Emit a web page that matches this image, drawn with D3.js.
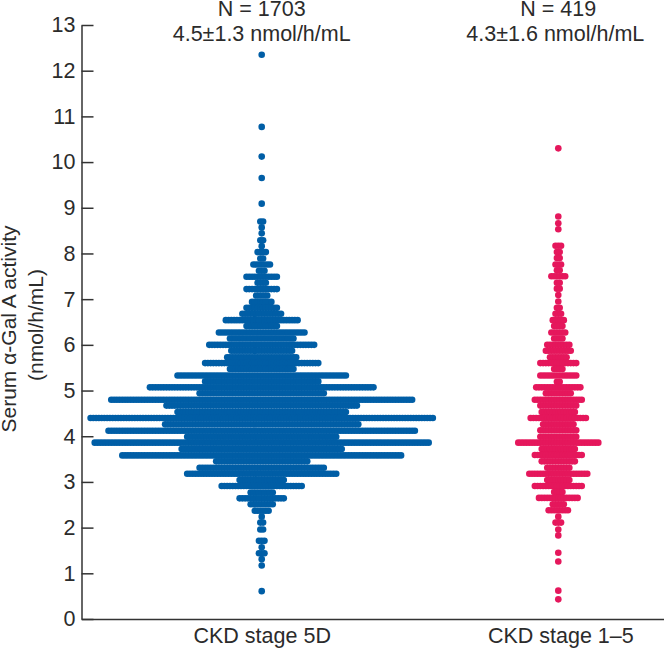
<!DOCTYPE html>
<html>
<head>
<meta charset="utf-8">
<style>
    html, body { margin: 0; padding: 0; background: #fff; }
    svg { display: block; }
    text { font-family: "Liberation Sans", Arial, sans-serif; fill: #2b2b2b; }
</style>
<script src="https://cdn.jsdelivr.net/npm/d3@7/dist/d3.min.js"></script>
</head>
<body>
<div id="chart"></div>
<script>

// DATA

var groups = ['CKD stage 5D', 'CKD stage 1\u20135'];
var headerN = ['N = 1703', 'N = 419'];
var headerMean = ['4.5\u00b11.3 nmol/h/mL', '4.3\u00b11.6 nmol/h/mL'];
var yTicks = [0, 1, 2, 3, 4, 5, 6, 7, 8, 9, 10, 11, 12, 13];

// Each row of the dot plot: activity value, and number of patients in that row
var dialysisValues = [
    12.35, 10.77, 10.12, 9.65, 9.09, 8.70, 8.57, 8.44, 8.29, 8.16,
    8.03, 7.89, 7.76, 7.62, 7.49, 7.36, 7.22, 7.08, 6.94, 6.81,
    6.68, 6.54, 6.41, 6.27, 6.14, 6.00, 5.87, 5.73, 5.60, 5.47,
    5.33, 5.20, 5.07, 4.94, 4.80, 4.67, 4.53, 4.40, 4.26, 4.12,
    3.99, 3.86, 3.72, 3.58, 3.45, 3.31, 3.18, 3.04, 2.91, 2.77,
    2.64, 2.51, 2.37, 2.24, 2.11, 1.96, 1.71, 1.57, 1.44, 1.31,
    1.17, 0.61
];
var dialysisCounts = [
    1, 1, 1, 1, 1, 2, 1, 1, 2, 1,
    4, 2, 7, 3, 12, 4, 12, 5, 8, 12,
    15, 27, 12, 32, 24, 39, 23, 26, 42, 24,
    62, 42, 82, 46, 110, 70, 62, 125, 71, 112,
    55, 122, 59, 102, 34, 46, 55, 17, 30, 9,
    17, 9, 6, 1, 2, 2, 3, 1, 3, 1,
    1, 1
];

var stageValues = [
    10.30, 8.81, 8.66, 8.53, 8.17, 8.03, 7.90, 7.76, 7.63, 7.50,
    7.36, 7.23, 7.09, 6.95, 6.81, 6.68, 6.54, 6.41, 6.27, 6.14,
    6.00, 5.87, 5.73, 5.60, 5.47, 5.33, 5.19, 5.07, 4.94, 4.80,
    4.67, 4.53, 4.40, 4.26, 4.13, 3.99, 3.86, 3.72, 3.59, 3.45,
    3.31, 3.18, 3.04, 2.91, 2.78, 2.65, 2.51, 2.38, 2.24, 2.11,
    1.96, 1.83, 1.45, 1.26, 0.62, 0.43
];
var stageCounts = [
    1, 1, 1, 1, 3, 2, 2, 3, 2, 6,
    2, 2, 1, 1, 2, 3, 5, 4, 6, 4,
    9, 10, 7, 14, 4, 14, 2, 17, 10, 18,
    14, 13, 21, 12, 14, 14, 30, 13, 18, 13,
    9, 22, 9, 18, 4, 15, 5, 8, 1, 3,
    1, 1, 1, 1, 1, 1
];

var colors = ['#005ea6', '#e5175c'];


// SETUP

var width = 664;
var height = 648;

var fontSize = '21.5px';
var dotRadius = 3.3;
var dotStep = 2.76;

var svg = d3.select( '#chart' ).append( 'svg' )
                                .attr( 'width', width )
                                .attr( 'height', height );

var yScale = d3.scaleLinear()
                .domain( [0, 13] )
                .range( [619, 25] );

// Point scale with padding, so the bottom line runs off the right edge
var xScale = d3.scalePoint()
                .domain( groups )
                .range( [81.5, 738.5] )
                .padding( 0.6076 );

// Offset from the column centre, in dots
var offsetScale = d3.scaleLinear()
                    .domain( [0, 1] )
                    .range( [0, dotStep] );


// DOTS

function drawColumn( groupIndex, values, counts ) {

    var dots = [];
    values.forEach( function( v, i ) {
        d3.range( counts[i] ).forEach( function( j ) {
            dots.push( { value: v, offset: j - (counts[i] - 1) / 2 } );
        } );
    } );

    svg.append( 'g' )
        .attr( 'fill', colors[groupIndex] )
        .selectAll( 'circle' )
        .data( dots )
        .join( 'circle' )
            .attr( 'cx', function( d ) {
                return xScale( groups[groupIndex] ) + offsetScale( d.offset );
            } )
            .attr( 'cy', function( d ) {
                return yScale( d.value );
            } )
            .attr( 'r', dotRadius );

}

drawColumn( 0, dialysisValues, dialysisCounts );
drawColumn( 1, stageValues, stageCounts );


// AXES

var yAxis = d3.axisLeft( yScale )
                .tickValues( yTicks )
                .tickSizeInner( -12 )
                .tickSizeOuter( 0 )
                .tickPadding( 6 );

var xAxis = d3.axisBottom( xScale )
                .tickSize( 0 )
                .tickPadding( 9 );

var yG = svg.append( 'g' )
            .attr( 'transform', 'translate(81.5,0)' )
            .call( yAxis );

var xG = svg.append( 'g' )
            .attr( 'transform', 'translate(0,619)' )
            .call( xAxis );

[yG, xG].forEach( function( g ) {
    g.selectAll( 'path, line' )
        .attr( 'stroke', '#333' )
        .attr( 'stroke-width', 1.5 );
    g.selectAll( 'text' )
        .attr( 'font-family', null )
        .style( 'font-size', fontSize );
} );

// The right-hand label sits a little off its column in the original
xG.selectAll( 'text' )
    .attr( 'dx', function( d, i ) {
        return i === 1 ? 2 : 0;
    } );


// HEADERS AND TITLE

groups.forEach( function( g, i ) {
    svg.append( 'text' )
        .attr( 'x', xScale( g ) )
        .attr( 'y', 15.5 )
        .attr( 'text-anchor', 'middle' )
        .style( 'font-size', fontSize )
        .text( headerN[i] );
    svg.append( 'text' )
        .attr( 'x', xScale( g ) )
        .attr( 'dx', i === 1 ? -3 : 0 )
        .attr( 'y', 41 )
        .attr( 'text-anchor', 'middle' )
        .style( 'font-size', fontSize )
        .text( headerMean[i] );
} );

svg.append( 'text' )
    .attr( 'transform', 'translate(16,329) rotate(-90)' )
    .attr( 'text-anchor', 'middle' )
    .style( 'font-size', '21px' )
    .text( 'Serum \u03b1-Gal A activity' );

svg.append( 'text' )
    .attr( 'transform', 'translate(43,325) rotate(-90)' )
    .attr( 'text-anchor', 'middle' )
    .style( 'font-size', '21px' )
    .text( '(nmol/h/mL)' );

</script>
</body>
</html>
